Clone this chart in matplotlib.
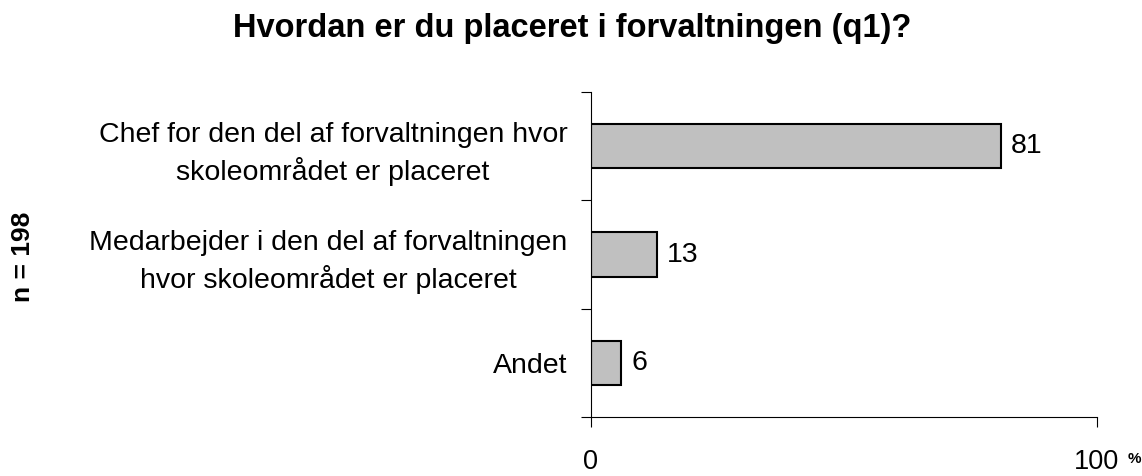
import matplotlib
matplotlib.use("Agg")
import matplotlib.pyplot as plt

categories = ["Chef for den del af forvaltningen hvor\nskoleområdet er placeret",
              "Medarbejder i den del af forvaltningen\nhvor skoleområdet er placeret",
              "Andet"]
values = [81, 13, 6]
xtick_vals = [0, 100]
xtick_labels = ["0", "100"]

plt.rcParams['font.family'] = ['Liberation Sans', 'DejaVu Sans']

fig = plt.figure(figsize=(11.42, 4.76), dpi=100)
ax = fig.add_axes([591/1142, 1 - 417/476, 506/1142, 325/476])

pos = list(range(len(categories)))
ax.barh(pos, values, height=0.41, color='#C0C0C0', edgecolor='black', linewidth=1.5)
for p, v in zip(pos, values):
    ax.annotate(str(v), (v, p), xytext=(7, 0), textcoords='offset points',
                ha='left', va='center', fontsize=20.5)

ax.set_xlim(0, 100)
ax.set_ylim(len(categories) - 0.5, -0.5)

ax.set_yticks(pos)
ax.set_yticklabels(categories, fontsize=20.5, multialignment='center', linespacing=1.4)
ax.set_yticks([p - 0.5 for p in pos] + [len(categories) - 0.5], minor=True)
ax.tick_params(axis='y', which='major', length=0, pad=17)
ax.tick_params(axis='y', which='minor', length=7, width=0.8, direction='out')

ax.set_xticks(xtick_vals)
ax.set_xticklabels(xtick_labels, fontsize=19.5)
ax.tick_params(axis='x', length=7, width=0.8, direction='out', pad=16)
# small bold percent sign after the last tick label
ax.annotate('%', (100, 0), xycoords=('data', 'axes fraction'), xytext=(22, -30),
            textcoords='offset points', ha='left', va='center',
            fontsize=11, fontweight='bold')

for s in ['top', 'right']:
    ax.spines[s].set_visible(False)
for s in ['left', 'bottom']:
    ax.spines[s].set_linewidth(0.8)

fig.text(572/1142, 1 - 37/476, "Hvordan er du placeret i forvaltningen (q1)?",
         ha='center', va='baseline', fontsize=23.5, fontweight='bold')
fig.text(23/1142, 1 - 257/476, "n = 198", rotation=90, ha='center', va='center',
         fontsize=19, fontweight='bold')

fig.savefig("out.png", dpi=100)
